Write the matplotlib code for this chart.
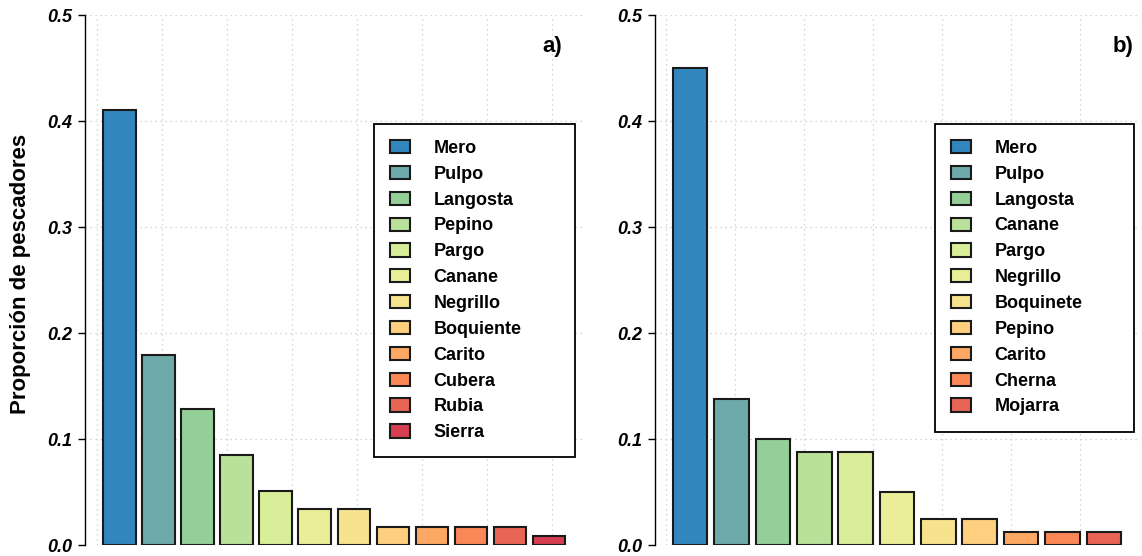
import numpy as np
import matplotlib
matplotlib.use("Agg")
import matplotlib.pyplot as plt

plt.rcParams['font.family'] = ['Liberation Sans', 'DejaVu Sans']

# ── Data ──────────────────────────────────────────────────────────────────────

species_a = ["Mero", "Pulpo", "Langosta", "Pepino", "Pargo", "Canane",
             "Negrillo", "Boquiente", "Carito", "Cubera", "Rubia", "Sierra"]
prop_a = [0.410, 0.179, 0.128, 0.085, 0.051, 0.034,
          0.034, 0.017, 0.017, 0.017, 0.017, 0.0085]

species_b = ["Mero", "Pulpo", "Langosta", "Canane", "Pargo", "Negrillo",
             "Boquinete", "Pepino", "Carito", "Cherna", "Mojarra"]
prop_b = [0.45, 0.1375, 0.100, 0.0875, 0.0875, 0.050,
          0.025, 0.025, 0.0125, 0.0125, 0.0125]

palette = ["#3186BD", "#6EAAA9", "#94CF98", "#B9E19A", "#D9EE98", "#EBEE98",
           "#F7E38E", "#FDCF7E", "#FDA963", "#FA8756", "#E86556", "#D53E50"]

yticks = [0.0, 0.1, 0.2, 0.3, 0.4, 0.5]

# ── Figure ────────────────────────────────────────────────────────────────────

fig = plt.figure(figsize=(11.42, 5.56), dpi=100)
ax_a = fig.add_axes([85 / 1142, 11 / 556, 498.5 / 1142, 530 / 556])
ax_b = fig.add_axes([655 / 1142, 11 / 556, 484 / 1142, 530 / 556])


def draw_panel(ax, names, values, tag, leg_box, tag_x):
    n = len(values)
    # R barplot layout: width 1, space 0.2
    x = 0.2 + 1.2 * np.arange(n) + 0.5
    lo, hi = 0.2, 0.2 + 1.2 * (n - 1) + 1
    pad = (hi - lo) * 0.04
    ax.set_xlim(lo - pad, hi + pad)
    ax.set_ylim(0, 0.5)

    # dotted grid
    for gx in np.arange(0, hi + pad, 2):
        ax.axvline(gx, color="#c8c8c8", lw=0.9, ls=(0, (1, 3)), zorder=0)
    for gy in yticks:
        ax.axhline(gy, color="#c8c8c8", lw=0.9, ls=(0, (1, 3)), zorder=0)

    bars = ax.bar(x, values, width=1.0, color=palette[:n],
                  edgecolor="#1a1a1a", linewidth=1.5, zorder=2)

    for side in ["top", "right", "bottom"]:
        ax.spines[side].set_visible(False)
    ax.spines["left"].set_bounds(0, 0.5)
    ax.spines["left"].set_linewidth(1.0)
    ax.set_xticks([])
    ax.set_yticks(yticks)
    ax.set_yticklabels([f"{v:.1f}" for v in yticks], fontsize=13,
                       fontweight="bold", fontstyle="italic")
    ax.tick_params(axis="y", length=5, width=1.0, pad=4)

    leg = ax.legend(bars, names, loc="upper left", mode="expand",
                    bbox_to_anchor=leg_box,
                    prop={"weight": "bold", "size": 13},
                    handlelength=1.1, handleheight=0.75,
                    handletextpad=1.3, labelspacing=0.49,
                    borderpad=0.9, borderaxespad=0, fancybox=False,
                    framealpha=1, edgecolor="black")
    leg.get_frame().set_linewidth(1.3)
    leg.set_zorder(5)

    ax.text(tag_x, 0.94, tag, transform=ax.transAxes, fontsize=16,
            fontweight="bold", ha="center", va="center")


draw_panel(ax_a, species_a, prop_a, "a)", (0.5797, 0.0, 0.4032, 0.795), 0.937)
draw_panel(ax_b, species_b, prop_b, "b)", (0.5785, 0.0, 0.411, 0.795), 0.967)

fig.text(21 / 1142, 0.507, "Proporción de pescadores", rotation=90,
         fontsize=16, fontweight="bold", ha="center", va="center")

fig.savefig("out.png", dpi=100)
